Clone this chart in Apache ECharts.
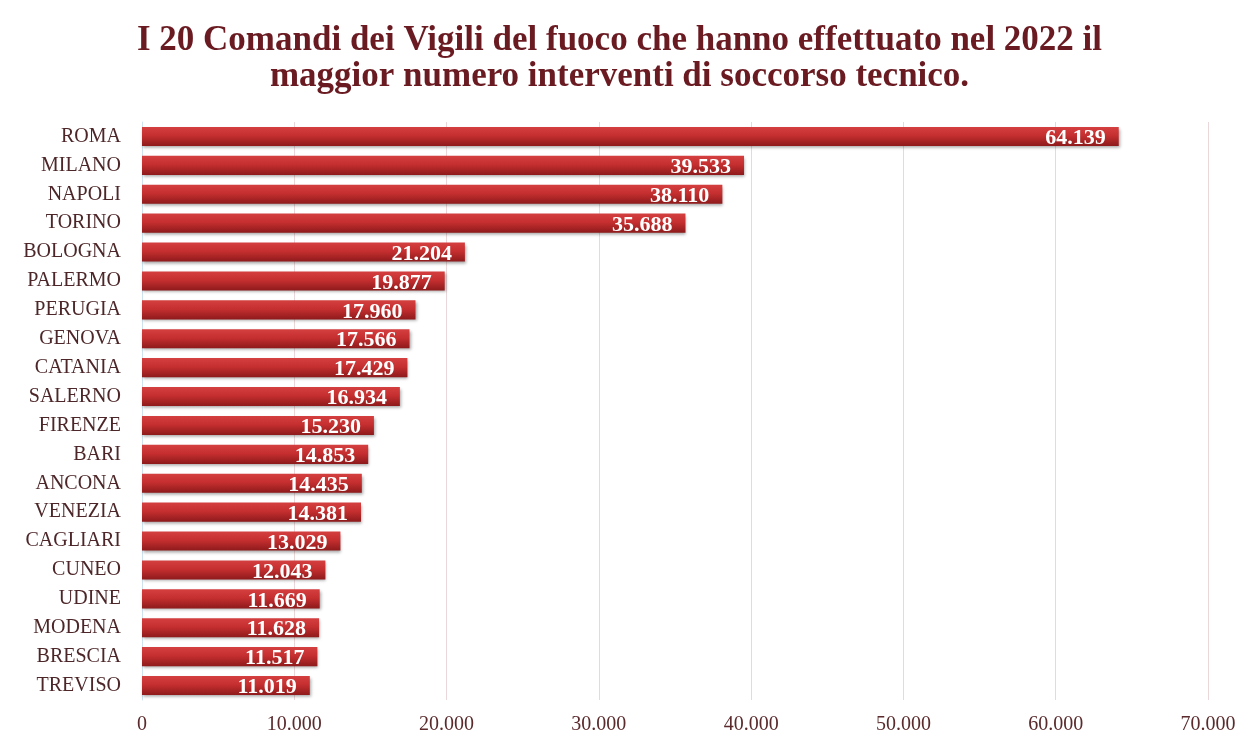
<!DOCTYPE html>
<html>
<head>
<meta charset="utf-8">
<script src="https://cdn.jsdelivr.net/npm/echarts@6/dist/echarts.min.js"></script>
<style>
  html, body { margin: 0; padding: 0; background: #ffffff; }
  #chart { width: 1239px; height: 736px; }
</style>
</head>
<body>
<div id="chart"></div>
<script>
// Comandi provinciali e numero di interventi di soccorso tecnico (2022)
const comandi = ['ROMA', 'MILANO', 'NAPOLI', 'TORINO', 'BOLOGNA', 'PALERMO', 'PERUGIA', 'GENOVA',
  'CATANIA', 'SALERNO', 'FIRENZE', 'BARI', 'ANCONA', 'VENEZIA', 'CAGLIARI', 'CUNEO',
  'UDINE', 'MODENA', 'BRESCIA', 'TREVISO'];
const interventi = [64139, 39533, 38110, 35688, 21204, 19877, 17960, 17566,
  17429, 16934, 15230, 14853, 14435, 14381, 13029, 12043,
  11669, 11628, 11517, 11019];
const tickMax = 70000;
const tickStep = 10000;

const serif = '"Liberation Serif", "DejaVu Serif", serif';

// 12345 -> "12.345"
function formatIt(v) {
  return String(Math.round(v)).replace(/\B(?=(\d{3})+(?!\d))/g, '.');
}

const chart = echarts.init(document.getElementById('chart'));
chart.setOption({
  animation: false,
  backgroundColor: '#ffffff',
  title: {
    text: 'I 20 Comandi dei Vigili del fuoco che hanno effettuato nel 2022 il\nmaggior numero interventi di soccorso tecnico.',
    left: 'center',
    top: 18,
    textStyle: {
      fontFamily: serif,
      fontWeight: 'bold',
      fontSize: 35,
      lineHeight: 36,
      color: '#6a1b22'
    }
  },
  grid: { left: 142, right: 31, top: 122, bottom: 36 },
  xAxis: {
    type: 'value',
    min: 0,
    max: tickMax,
    interval: tickStep,
    axisLine: { show: false },
    axisTick: { show: false },
    splitLine: { lineStyle: { color: '#ead7da', width: 1 } },
    axisLabel: {
      margin: 15,
      fontFamily: serif,
      fontSize: 20,
      color: '#5a2a2c',
      formatter: formatIt
    }
  },
  yAxis: {
    type: 'category',
    inverse: true,
    data: comandi,
    axisLine: { show: true, lineStyle: { color: '#cfe3ee' } },
    axisTick: { show: false },
    axisLabel: {
      margin: 21,
      fontFamily: serif,
      fontSize: 20,
      color: '#4c2628'
    }
  },
  series: [{
    type: 'bar',
    data: interventi,
    barWidth: '66%',
    itemStyle: {
      color: new echarts.graphic.LinearGradient(0, 0, 0, 1, [
        { offset: 0, color: '#d43f40' },
        { offset: 0.45, color: '#c62f30' },
        { offset: 1, color: '#8e1a1b' }
      ]),
      shadowColor: 'rgba(0,0,0,0.35)',
      shadowBlur: 3,
      shadowOffsetX: 1,
      shadowOffsetY: 2
    },
    label: {
      show: true,
      position: 'insideRight',
      offset: [-8, 2],
      fontFamily: serif,
      fontWeight: 'bold',
      fontSize: 22,
      color: '#ffffff',
      formatter: p => formatIt(p.value)
    }
  }]
});
</script>
</body>
</html>
